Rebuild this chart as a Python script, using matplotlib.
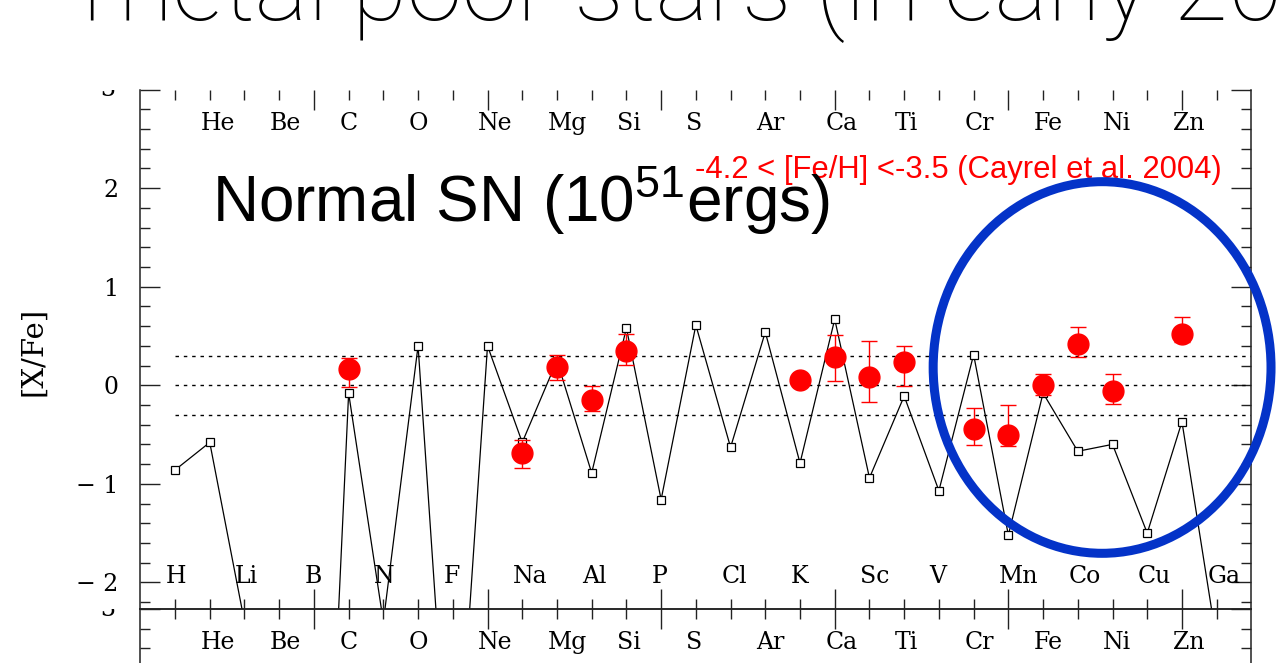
import matplotlib
matplotlib.use("Agg")
import matplotlib.pyplot as plt
from matplotlib.patches import Ellipse
from matplotlib.ticker import MultipleLocator
from matplotlib.transforms import Bbox, TransformedBbox
import numpy as np

plt.rcParams['mathtext.fontset'] = 'custom'
plt.rcParams['mathtext.rm'] = 'Liberation Sans'
plt.rcParams['mathtext.it'] = 'Liberation Sans:italic'

# element symbols in order of atomic number
elements = ['H', 'He', 'Li', 'Be', 'B', 'C', 'N', 'O', 'F', 'Ne', 'Na', 'Mg',
            'Al', 'Si', 'P', 'S', 'Cl', 'Ar', 'K', 'Ca', 'Sc', 'Ti', 'V', 'Cr',
            'Mn', 'Fe', 'Co', 'Ni', 'Cu', 'Zn', 'Ga']
Z = np.arange(1, len(elements) + 1)

# [X/Fe] of the normal SN yield model
model_xfe = [-0.86, -0.58, -2.40, -5.00, -7.70, -0.08, -2.40, 0.40, -4.80, 0.40,
             -0.58, 0.25, -0.89, 0.58, -1.16, 0.61, -0.63, 0.54, -0.79, 0.67,
             -0.94, -0.11, -1.07, 0.31, -1.52, -0.08, -0.67, -0.60, -1.50, -0.37,
             -2.60]

# Cayrel et al. 2004, -4.2 < [Fe/H] < -3.5
obs_el = ['C', 'Na', 'Mg', 'Al', 'Si', 'K', 'Ca', 'Sc', 'Ti', 'Cr', 'Mn', 'Fe',
          'Co', 'Ni', 'Zn']
obs_xfe = [0.16, -0.69, 0.18, -0.15, 0.35, 0.05, 0.29, 0.08, 0.24, -0.44, -0.50,
           0.00, 0.42, -0.06, 0.52]
obs_err_lo = [0.18, 0.15, 0.13, 0.11, 0.14, 0.04, 0.25, 0.25, 0.25, 0.17, 0.12,
              0.10, 0.13, 0.13, 0.08]
obs_err_hi = [0.12, 0.13, 0.13, 0.14, 0.17, 0.04, 0.22, 0.37, 0.16, 0.21, 0.30,
              0.11, 0.17, 0.17, 0.17]

ref_levels = [0.3, 0.0, -0.3]
ytick_vals = [-2, -1, 0, 1, 2, 3]
ytick_text = ['\u2212 2', '\u2212 1', '0', '1', '2', '']

W, H = 1276, 663
fig = plt.figure(figsize=(W / 100, H / 100), dpi=100)


def fx(px):
    return px / W


def fy(py):
    return 1 - py / H


x0, x1 = 140.3, 1251.4
ytop, ybot = 89.5, 609
ymin, ymax = -2.27, 3.0
hgt = (ybot - ytop) / H

ax = fig.add_axes([fx(x0), fy(ybot), fx(x1) - fx(x0), hgt])
ax2 = fig.add_axes([fx(x0), fy(ybot) - hgt, fx(x1) - fx(x0), hgt])

lab_font = dict(family='DejaVu Serif', fontsize=17)
ink = '#222222'

for a in (ax, ax2):
    a.set_xlim(0, 32)
    a.set_ylim(ymin, ymax)
    a.set_xticks(np.arange(5, 32, 5))
    a.set_xticks(Z, minor=True)
    a.set_yticks(ytick_vals)
    a.yaxis.set_minor_locator(MultipleLocator(0.2))
    a.tick_params(which='both', direction='in', top=True, right=True,
                  labelbottom=False, labelleft=False, width=1.0, color=ink)
    a.tick_params(which='major', length=14.5)
    a.tick_params(which='minor', length=7)
    for s in a.spines.values():
        s.set_linewidth(1.1)
        s.set_color(ink)
    a.patch.set_alpha(0)

# element names: even Z along the top, odd Z along the bottom
for z, el in zip(Z, elements):
    if z % 2 == 0:
        ax.text(z - 0.27, 2.66, el, ha='left', va='center', **lab_font)
        ax2.text(z - 0.27, 2.66, el, ha='left', va='center', **lab_font)
    else:
        ax.text(z - 0.27, -1.94, el, ha='left', va='center', **lab_font)

ax.spines['top'].set_visible(False)
ax2.spines['bottom'].set_visible(False)

ax.tick_params(labelleft=True, pad=16)
ax.set_yticklabels(ytick_text, **lab_font)

# the "3" labels only show their lower half
for ypix, lim in ((ytop, 90), (ybot, ybot)):
    t = fig.text(fx(108), fy(ypix), '3', ha='center', va='center', **lab_font)
    t.set_clip_box(TransformedBbox(Bbox.from_extents(0, 0, fx(x0), fy(lim)),
                                   fig.transFigure))
    t.set_clip_on(True)

fig.text(fx(33), fy(351), '[X/Fe]', rotation=90, ha='center', va='center',
         family='DejaVu Serif', fontsize=21)

ax.hlines(ref_levels, 1, 32, colors='black', linestyles=(0, (2.5, 3.5)),
          lw=1.0, zorder=2)
ax.plot(Z, model_xfe, color='black', lw=0.9, marker='s', ms=5.5,
        mfc='white', mec='black', mew=0.9, zorder=3)

obs_z = [elements.index(e) + 1 for e in obs_el]
ax.errorbar(obs_z, obs_xfe, yerr=[obs_err_lo, obs_err_hi], fmt='o',
            color='red', ms=15, capsize=6, elinewidth=1.0, capthick=1.0,
            zorder=4)

ax.text(15.98, 2.10, '-4.2 < [Fe/H] <-3.5 (Cayrel et al. 2004)', color='red',
        fontsize=22.3, family='Liberation Sans', va='baseline', zorder=5)
ax.text(2.07, 1.66, r'Normal SN (10$^{51}$ergs)', fontsize=46,
        family='Liberation Sans', va='baseline', zorder=5)

ax.add_patch(Ellipse((27.70, 0.18), 9.73, 3.77, fill=False, ec='#0433c8',
                     lw=6.5, clip_on=False, zorder=6))

fig.text(fx(83), fy(20), 'metal poor stars (in early 20', family=['Roboto'],
         weight='light', fontsize=72, va='baseline')

fig.savefig('out.png', dpi=100)
